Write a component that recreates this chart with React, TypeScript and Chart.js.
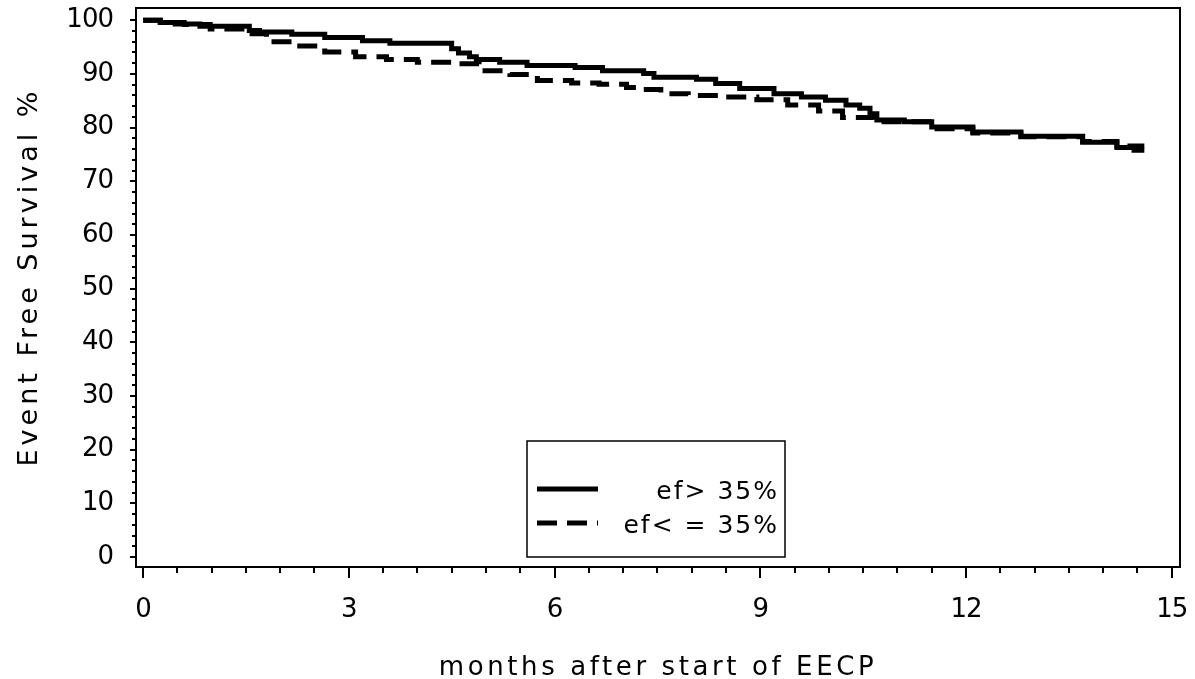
import React, { useEffect, useRef } from "react";
import { Chart, registerables } from "chart.js";

Chart.register(...registerables);

// ---- data ----
const MONTHS_EF_GT35 = [0, 0.25, 0.47, 0.83, 1.55, 1.7, 2.17, 2.65, 3.2, 3.6, 4.5, 4.6, 4.76, 4.86, 5.2, 5.6, 6.3, 6.7, 7.3, 7.45, 8.07, 8.35, 8.7, 9.2, 9.6, 9.95, 10.25, 10.45, 10.6, 10.7, 11.1, 11.5, 12.1, 12.8, 13.7, 14.2, 14.45, 14.6];
const SURV_EF_GT35 = [100, 99.6, 99.3, 98.9, 98.1, 97.8, 97.4, 96.8, 96.2, 95.7, 94.7, 93.9, 93.2, 92.7, 92.2, 91.6, 91.2, 90.6, 90.1, 89.4, 89.0, 88.2, 87.3, 86.3, 85.7, 85.1, 84.2, 83.6, 82.6, 81.4, 81.1, 80.1, 79.2, 78.4, 77.3, 76.3, 75.8, 75.8];

const MONTHS_EF_LE35 = [0, 0.3, 0.6, 0.98, 1.5, 1.8, 2.2, 2.65, 3.1, 3.55, 4.0, 4.6, 4.9, 5.35, 5.75, 6.25, 6.65, 7.05, 7.2, 7.55, 7.95, 8.45, 8.95, 9.4, 9.85, 10.2, 10.65, 11.5, 12.1, 12.8, 13.7, 14.2, 14.6];
const SURV_EF_LE35 = [100, 99.6, 99.2, 98.4, 97.5, 96.0, 95.2, 94.1, 93.2, 92.7, 92.2, 91.9, 90.6, 89.9, 88.8, 88.3, 88.1, 87.5, 87.1, 86.3, 86.0, 85.7, 85.2, 84.2, 83.1, 81.9, 81.1, 79.8, 79.0, 78.3, 77.4, 76.6, 76.6];

const SERIES_LABELS = ["ef> 35%", "ef< = 35%"];

const X_TICKS = [0, 3, 6, 9, 12, 15];
const X_TICK_LABELS = ["0", "3", "6", "9", "12", "15"];
const Y_TICKS = [0, 10, 20, 30, 40, 50, 60, 70, 80, 90, 100];
const Y_TICK_LABELS = ["0", "10", "20", "30", "40", "50", "60", "70", "80", "90", "100"];

const X_TITLE = "months after start of EECP";
const Y_TITLE = "Event Free Survival %";

const FONT = "'DejaVu Sans', sans-serif";

const spacingPlugin = {
  id: "spacing",
  beforeDraw(chart: any) {
    (chart.ctx as any).letterSpacing = "-1px";
  },
};

const decorPlugin = {
  id: "decor",
  afterDraw(chart: any) {
    const ctx = chart.ctx as CanvasRenderingContext2D;
    const { left, right, top, bottom } = chart.chartArea;
    const xs = chart.scales.x;
    const ys = chart.scales.y;
    ctx.save();
    // frame
    ctx.strokeStyle = "#000";
    ctx.lineWidth = 2;
    ctx.strokeRect(left, top, right - left, bottom - top);

    // x ticks (major every 3, minor every 0.5)
    for (let i = 0; i <= 30; i++) {
      const v = i * 0.5;
      const px = Math.round(xs.getPixelForValue(v));
      const len = i % 6 === 0 ? 11 : 6;
      ctx.beginPath();
      ctx.moveTo(px, bottom);
      ctx.lineTo(px, bottom + len);
      ctx.stroke();
    }
    // y ticks (major every 10, minor every 2)
    for (let i = 0; i <= 50; i++) {
      const v = i * 2;
      const py = Math.round(ys.getPixelForValue(v));
      const len = i % 5 === 0 ? 6 : 4;
      ctx.beginPath();
      ctx.moveTo(left - len, py);
      ctx.lineTo(left, py);
      ctx.stroke();
    }

    // axis titles
    ctx.fillStyle = "#000";
    ctx.font = `26px ${FONT}`;
    (ctx as any).letterSpacing = "3.6px";
    ctx.textAlign = "center";
    ctx.textBaseline = "alphabetic";
    ctx.fillText(X_TITLE, 658, 675);
    ctx.save();
    ctx.font = `27px ${FONT}`;
    (ctx as any).letterSpacing = "4px";
    ctx.translate(37, 277);
    ctx.rotate(-Math.PI / 2);
    ctx.fillText(Y_TITLE, 0, 0);
    ctx.restore();

    // legend
    const bx = 527, by = 441, bw = 258, bh = 116;
    ctx.fillStyle = "#fff";
    ctx.fillRect(bx, by, bw, bh);
    ctx.strokeStyle = "#000";
    ctx.lineWidth = 1.5;
    ctx.strokeRect(bx, by, bw, bh);
    const rows = [489, 523];
    chart.data.datasets.forEach((ds: any, i: number) => {
      const y = rows[i];
      ctx.save();
      ctx.strokeStyle = "#000";
      ctx.lineWidth = 5;
      ctx.setLineDash(ds.borderDash || []);
      ctx.beginPath();
      ctx.moveTo(537, y);
      ctx.lineTo(598, y);
      ctx.stroke();
      ctx.restore();
      ctx.fillStyle = "#000";
      ctx.font = `25px ${FONT}`;
      (ctx as any).letterSpacing = "2px";
      ctx.textAlign = "right";
      ctx.textBaseline = "middle";
      ctx.fillText(ds.label, 779, y + 3);
    });
    ctx.restore();
  },
};

const noPad = (s: any) => {
  s.paddingTop = 0;
  s.paddingBottom = 0;
  s.paddingLeft = 0;
  s.paddingRight = 0;
};

export default function App() {
  const ref = useRef<HTMLCanvasElement | null>(null);
  useEffect(() => {
    if (!ref.current) return;
    const chart = new Chart(ref.current, {
      type: "line",
      data: {
        datasets: [
          {
            label: SERIES_LABELS[0],
            data: MONTHS_EF_GT35.map((t, i) => ({ x: t, y: SURV_EF_GT35[i] })),
            borderColor: "#000",
            borderWidth: 5,
            pointRadius: 0,
            stepped: true,
            fill: false,
          },
          {
            label: SERIES_LABELS[1],
            data: MONTHS_EF_LE35.map((t, i) => ({ x: t, y: SURV_EF_LE35[i] })),
            borderColor: "#000",
            borderWidth: 5,
            borderDash: [20, 10],
            pointRadius: 0,
            stepped: true,
            fill: false,
          },
        ],
      },
      options: {
        responsive: false,
        animation: false,
        devicePixelRatio: 1,
        layout: { padding: { top: 8, right: 15, left: 0, bottom: 0 } },
        plugins: { legend: { display: false }, tooltip: { enabled: false } },
        scales: {
          x: {
            type: "linear",
            min: -0.102,
            max: 15.12,
            grid: { display: false },
            border: { display: false },
            afterBuildTicks: (s: any) => {
              s.ticks = X_TICKS.map((v) => ({ value: v }));
            },
            afterFit: (s: any) => {
              s.height = 112;
              noPad(s);
            },
            ticks: {
              autoSkip: false,
              maxRotation: 0,
              padding: 20,
              color: "#000",
              font: { family: FONT, size: 26 },
              callback: (v: any) => {
                const i = X_TICKS.indexOf(Number(v));
                return i >= 0 ? X_TICK_LABELS[i] : "";
              },
            },
          },
          y: {
            type: "linear",
            min: -1.86,
            max: 102.29,
            grid: { display: false },
            border: { display: false },
            afterBuildTicks: (s: any) => {
              s.ticks = Y_TICKS.map((v) => ({ value: v }));
            },
            afterFit: (s: any) => {
              s.width = 136;
              noPad(s);
            },
            ticks: {
              autoSkip: false,
              padding: 15,
              color: "#000",
              font: { family: FONT, size: 26 },
              callback: (v: any) => {
                const i = Y_TICKS.indexOf(Number(v));
                return i >= 0 ? Y_TICK_LABELS[i] : "";
              },
            },
          },
        },
      },
      plugins: [spacingPlugin, decorPlugin],
    } as any);
    return () => chart.destroy();
  }, []);
  return (
    <div style={{ position: "fixed", left: 0, top: 0, width: 1195, height: 679, background: "#fff" }}>
      <canvas ref={ref} width={1195} height={679} />
    </div>
  );
}
